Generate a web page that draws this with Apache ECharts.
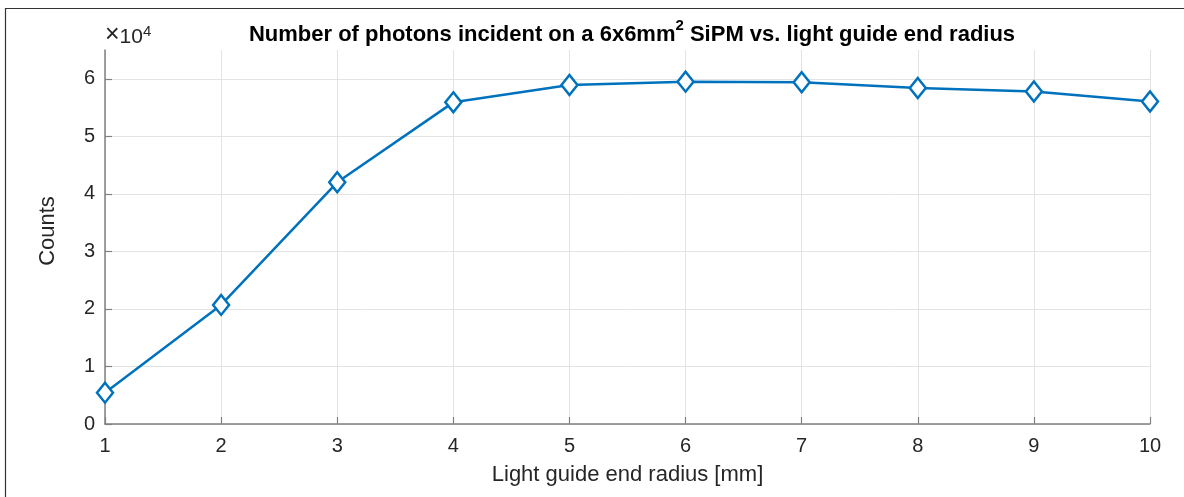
<!DOCTYPE html>
<html>
<head>
<meta charset="utf-8">
<script src="https://cdn.jsdelivr.net/npm/echarts@6/dist/echarts.min.js"></script>
<style>
html,body{margin:0;padding:0;background:#fff;}
#c{width:1184px;height:497px;}
</style>
</head>
<body>
<div id="c"></div>
<script>
const radius = [1, 2, 3, 4, 5, 6, 7, 8, 9, 10];
const counts = [5450, 20700, 42000, 55900, 58900, 59500, 59400, 58400, 57800, 56050];
const xTicks = [1, 2, 3, 4, 5, 6, 7, 8, 9, 10];
const yTicks = [0, 10000, 20000, 30000, 40000, 50000, 60000];

const FONT = '"Liberation Sans", Arial, Helvetica, sans-serif';
const TXT = '#262626';
const AX = '#808080';
const GRID = '#e3e3e3';

const chart = echarts.init(document.getElementById('c'), null, {renderer: 'canvas'});
chart.setOption({
  backgroundColor: '#fff',
  animation: false,
  graphic: [{
    type: 'rect',
    shape: {x: 5.5, y: 8.5, width: 1200, height: 520},
    style: {fill: 'none', stroke: '#333', lineWidth: 1.2},
    silent: true, z: -10
  }, {
    type: 'text', x: 48, y: 231, rotation: Math.PI / 2,
    style: {text: 'Counts', fontFamily: FONT, fontSize: 22, fill: TXT, align: 'center', verticalAlign: 'middle'},
    silent: true
  }],
  title: {
    text: '{m|Number of photons incident on a 6x6mm}{s|2}{m| SiPM vs. light guide end radius}',
    left: 627, top: 13, textAlign: 'center',
    textStyle: {
      rich: {
        m: {fontFamily: FONT, fontSize: 22, fontWeight: 'bold', color: '#000', lineHeight: 28, verticalAlign: 'bottom'},
        s: {fontFamily: FONT, fontSize: 15, fontWeight: 'bold', color: '#000', lineHeight: 28, verticalAlign: 'top'}
      }
    }
  },
  grid: {left: 105, right: 34, top: 50, bottom: 73, containLabel: false},
  xAxis: {
    type: 'value', min: 1, max: 10, interval: 1,
    name: 'Light guide end radius [mm]', nameLocation: 'middle', nameGap: 40,
    nameTextStyle: {fontFamily: FONT, fontSize: 22, color: TXT},
    axisLine: {show: true, onZero: false, lineStyle: {color: AX, width: 1.5}},
    axisTick: {show: true, inside: true, length: 7, lineStyle: {color: AX, width: 1.2}, customValues: xTicks},
    axisLabel: {fontFamily: FONT, fontSize: 20, color: TXT, margin: 12, customValues: xTicks},
    splitLine: {show: true, lineStyle: {color: GRID, width: 1}}
  },
  yAxis: {
    type: 'value', min: 0, max: 65000, interval: 10000,
    name: '{x|×}{a|10}{b|4}', nameLocation: 'end', nameGap: 2,
    nameTextStyle: {
      align: 'left',
      rich: {
        x: {fontFamily: FONT, fontSize: 25, color: TXT, lineHeight: 11, verticalAlign: 'bottom'},
        a: {fontFamily: FONT, fontSize: 21, color: TXT, lineHeight: 24, verticalAlign: 'bottom'},
        b: {fontFamily: FONT, fontSize: 15, color: TXT, lineHeight: 24, verticalAlign: 'top'}
      }
    },
    axisLine: {show: true, lineStyle: {color: AX, width: 1.5}},
    axisTick: {show: true, inside: true, length: 7, lineStyle: {color: AX, width: 1.2}, customValues: yTicks},
    axisLabel: {fontFamily: FONT, fontSize: 20, color: TXT, margin: 10, customValues: yTicks,
      formatter: v => String(Math.round(v / 10000))},
    splitLine: {show: true, lineStyle: {color: GRID, width: 1}}
  },
  series: [{
    type: 'line',
    data: radius.map((r, i) => [r, counts[i]]),
    lineStyle: {color: '#0072BD', width: 2.5},
    symbol: 'diamond', symbolSize: [16, 20], showSymbol: true,
    itemStyle: {color: '#fff', borderColor: '#0072BD', borderWidth: 2.5},
    z: 3
  }]
});
</script>
</body>
</html>
